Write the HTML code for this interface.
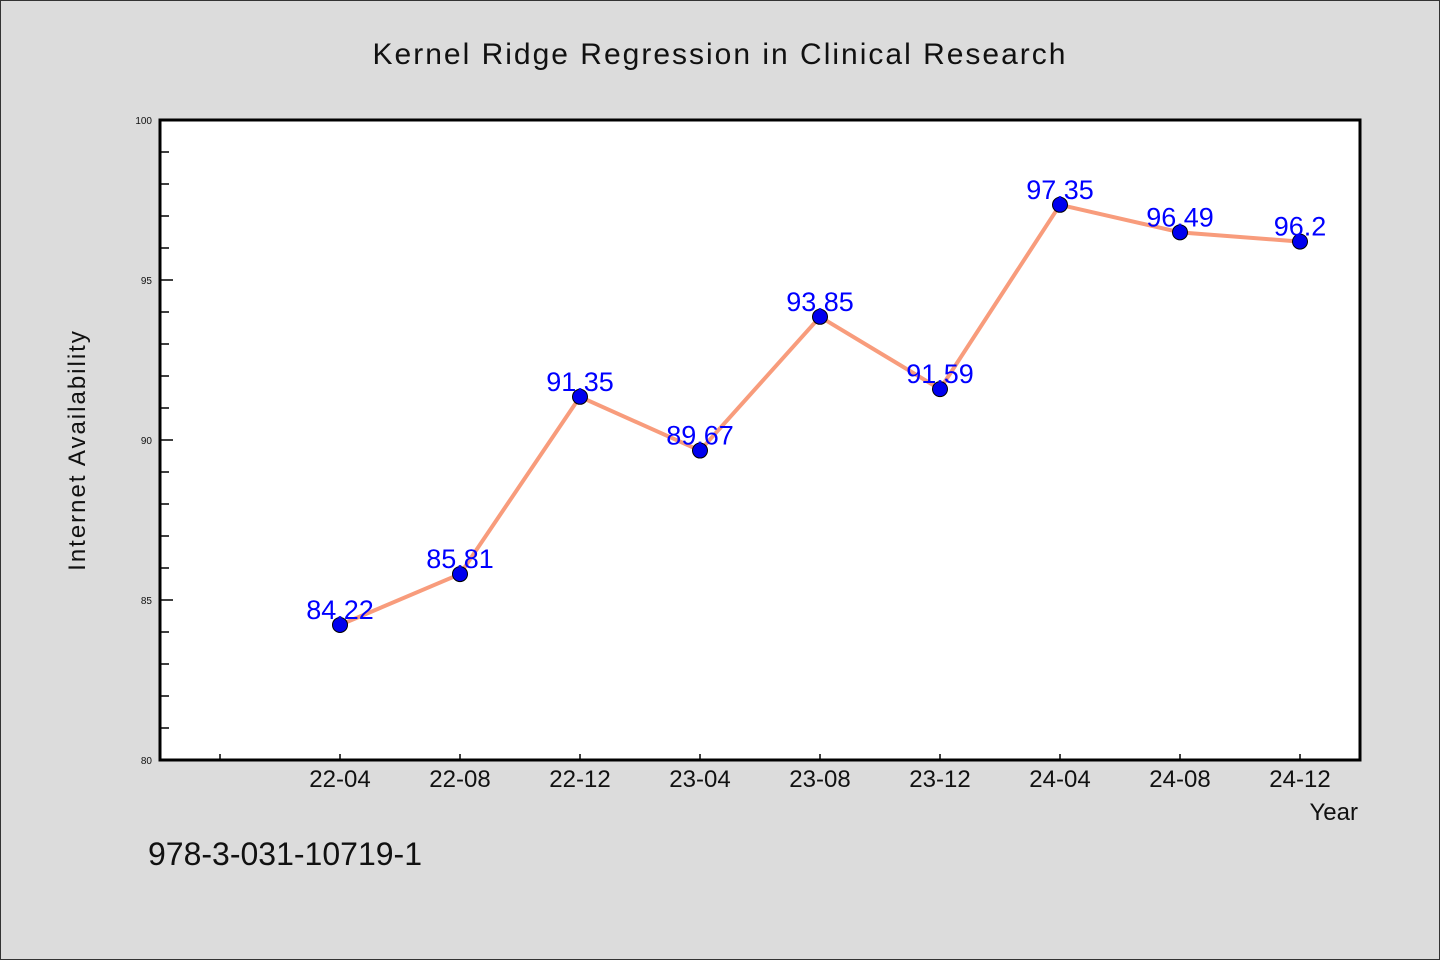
<!DOCTYPE html>
<html><head><meta charset="utf-8">
<style>
html,body{margin:0;padding:0;background:#dcdcdc;}
svg{display:block;font-family:"WenQuanYi Zen Hei","Liberation Sans",sans-serif;}
</style></head>
<body>
<svg id="chart" width="1440" height="960" viewBox="0 0 1440 960">
<rect x="0.5" y="0.5" width="1439" height="959" fill="#dcdcdc" stroke="#333" stroke-width="1"/>
<text x="720" y="64" text-anchor="middle" font-size="30" fill="#111" letter-spacing="2">Kernel Ridge Regression in Clinical Research</text>
<rect x="160" y="120" width="1200" height="640" fill="#fff"/>
<g id="axes"></g>
<g id="series"></g>
<rect x="160" y="120" width="1200" height="640" fill="none" stroke="#000" stroke-width="3"/>
<text transform="translate(85,450) rotate(-90)" text-anchor="middle" font-size="24" fill="#111" letter-spacing="2">Internet Availability</text>
<text x="1358" y="820" text-anchor="end" font-size="24" fill="#111">Year</text>
<text x="148" y="865" font-size="32" fill="#111">978-3-031-10719-1</text>
</svg>
<script>
const categories = ["22-04","22-08","22-12","23-04","23-08","23-12","24-04","24-08","24-12"];
const values = [84.22,85.81,91.35,89.67,93.85,91.59,97.35,96.49,96.2];
const valueLabels = ["84.22","85.81","91.35","89.67","93.85","91.59","97.35","96.49","96.2"];
const yTicks = [80,85,90,95,100];
const yMin = 80, yMax = 100;
const NS = "http://www.w3.org/2000/svg";
const L = 160, R = 1360, T = 120, B = 760;
const slots = categories.length + 1;
const xScale = i => L + (R - L) * (i + 1 + 0.5) / slots;
const yScale = v => B - (v - yMin) / (yMax - yMin) * (B - T);
function mk(tag, attrs, parent){const e=document.createElementNS(NS,tag);for(const k in attrs)e.setAttribute(k,attrs[k]);parent.appendChild(e);return e;}
const axes = document.getElementById('axes');
const series = document.getElementById('series');
// y minor ticks
for (let v = yMin + 1; v < yMax; v++) {
  const major = yTicks.includes(v);
  const t = mk('line',{x1:L,x2:L+(major?13:9),y1:yScale(v),y2:yScale(v),stroke:'#000','stroke-width':1.5},axes);
  
  
}
yTicks.forEach(v => {
  const t = mk('text',{x:L-8,y:yScale(v)+4,'text-anchor':'end','font-size':10,fill:'#111'},axes);
  t.textContent = v;
  
  
});
// x ticks (including empty leading slot)
for (let i = -1; i < categories.length; i++) {
  const x = xScale(i);
  const t = mk('line',{x1:x,x2:x,y1:B,y2:B-6,stroke:'#000','stroke-width':1.5},axes);
  
  
  if (i >= 0) {
    const lb = mk('text',{x:x,y:B+27,'text-anchor':'middle','font-size':24,fill:'#111'},axes);
    lb.textContent = categories[i];
    
    
  }
}
const pts = values.map((v,i)=>xScale(i)+','+yScale(v)).join(' ');
const line = mk('polyline',{points:pts,fill:'none',stroke:'#f89c7c','stroke-width':4,'stroke-linejoin':'round'},series);


values.forEach((v,i)=>{
  const c = mk('circle',{cx:xScale(i),cy:yScale(v),r:7.5,fill:'#0000ee',stroke:'#000','stroke-width':1},series);
  
  
});
values.forEach((v,i)=>{
  const t = mk('text',{x:xScale(i),y:yScale(v)-6,'text-anchor':'middle','font-size':27,fill:'#0000ff'},series);
  t.textContent = valueLabels[i];
  
  
});
</script>
</body></html>
